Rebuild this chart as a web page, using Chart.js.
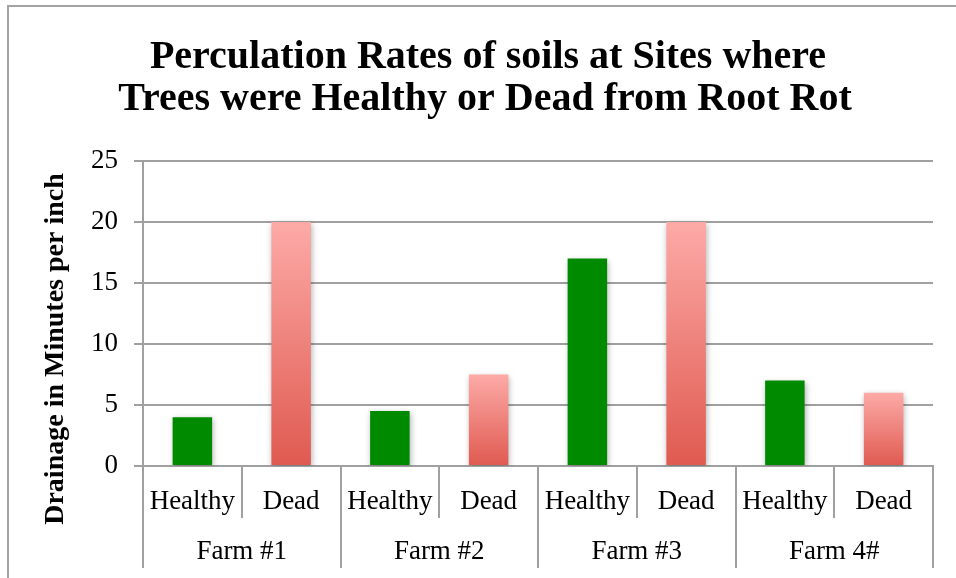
<!DOCTYPE html>
<html>
<head>
<meta charset="utf-8">
<script src="https://cdn.jsdelivr.net/npm/chart.js@4"></script>
<style>
  html, body { margin: 0; padding: 0; background: #fff; }
  #wrap { position: relative; width: 956px; height: 578px; overflow: hidden; }
  #frame { position: absolute; left: 7px; top: 5px; width: 2000px; height: 2000px; border-left: 2px solid #a3a3a3; border-top: 2px solid #a3a3a3; }
  canvas { position: absolute; left: 0; top: 0; }
</style>
</head>
<body>
<div id="wrap">
  <div id="frame"></div>
  <canvas id="c" width="956" height="578"></canvas>
</div>
<script>
// ---- data ----
const farms = ["Farm #1", "Farm #2", "Farm #3", "Farm 4#"];
const conditions = ["Healthy", "Dead"];
const healthyValues = [4, 4.5, 17, 7];
const deadValues = [20, 7.5, 20, 6];
const yTicks = [0, 5, 10, 15, 20, 25];
const titleLines = ["Perculation Rates of soils at Sites where", "Trees were Healthy or Dead from Root Rot"];
const yTitle = "Drainage in Minutes per inch";

// build interleaved table for the library
const subLabels = [];
const values = [];
farms.forEach((f, i) => {
  subLabels.push(conditions[0]); values.push(healthyValues[i]);
  subLabels.push(conditions[1]); values.push(deadValues[i]);
});

const GRID = '#a0a0a0';
const SERIF = '"Liberation Serif", "DejaVu Serif", serif';

function barColor(ctx) {
  const chart = ctx.chart;
  if (ctx.dataIndex % 2 === 0) return '#008a00';
  const y = chart.scales.y;
  if (!y) return '#f08a84';
  const v = ctx.raw;
  const top = y.getPixelForValue(v);
  const base = y.getPixelForValue(0);
  const g = chart.ctx.createLinearGradient(0, top, 0, base);
  g.addColorStop(0, '#fdaaa7');
  g.addColorStop(1, '#df5a50');
  return g;
}

const textPlugin = {
  id: 'texts',
  afterDraw(chart) {
    const c = chart.ctx;
    c.save();
    c.fillStyle = '#000';
    c.textAlign = 'center';
    c.textBaseline = 'middle';
    c.font = 'bold 40px ' + SERIF;
    c.fillText(titleLines[0], 488, 58);
    c.fillText(titleLines[1], 485, 100);
    c.translate(56, 349);
    c.rotate(-Math.PI / 2);
    c.font = 'bold 28px ' + SERIF;
    c.fillText(yTitle, 0, 0);
    c.restore();
  }
};

const shadowPlugin = {
  id: 'barShadow',
  beforeDatasetsDraw(chart) {
    const c = chart.ctx;
    c.save();
    c.shadowColor = 'rgba(0,0,0,0.30)';
    c.shadowBlur = 6;
    c.shadowOffsetX = 1;
    c.shadowOffsetY = 2;
  },
  afterDatasetsDraw(chart) {
    chart.ctx.restore();
  }
};

new Chart(document.getElementById('c'), {
  type: 'bar',
  data: {
    labels: subLabels,
    datasets: [{
      data: values,
      backgroundColor: barColor,
      borderWidth: 0,
      barPercentage: 0.4,
      categoryPercentage: 1.0
    }]
  },
  options: {
    responsive: false,
    animation: false,
    devicePixelRatio: 1,
    layout: { padding: { left: 0, right: 23, top: 161, bottom: 10 } },
    plugins: { legend: { display: false }, tooltip: { enabled: false }, title: { display: false } },
    scales: {
      y: {
        min: 0, max: 25,
        afterBuildTicks: (s) => { s.ticks = yTicks.map(v => ({ value: v })); },
        afterFit: (s) => { s.width = 143; },
        ticks: { font: { family: SERIF, size: 27 }, color: '#000', padding: 16 },
        grid: { color: GRID, lineWidth: 2, tickLength: 9 },
        border: { display: true, color: GRID, width: 2 }
      },
      x: {
        position: 'bottom',
        weight: 1,
        offset: true,
        afterFit: (s) => { s.height = 52; },
        ticks: { font: { family: SERIF, size: 27 }, color: '#000', padding: -32, maxRotation: 0, autoSkip: false },
        grid: { offset: true, drawOnChartArea: false, color: GRID, lineWidth: 2, tickLength: 52 },
        border: { display: true, color: GRID, width: 2 }
      },
      x2: {
        type: 'category',
        labels: farms,
        position: 'bottom',
        weight: 2,
        offset: true,
        afterFit: (s) => { s.height = 50; },
        ticks: { font: { family: SERIF, size: 27 }, color: '#000', padding: -32, maxRotation: 0, autoSkip: false },
        grid: { offset: true, drawOnChartArea: false, color: GRID, lineWidth: 2, tickLength: 50 },
        border: { display: false }
      }
    }
  },
  plugins: [shadowPlugin, textPlugin]
});
</script>
</body>
</html>
